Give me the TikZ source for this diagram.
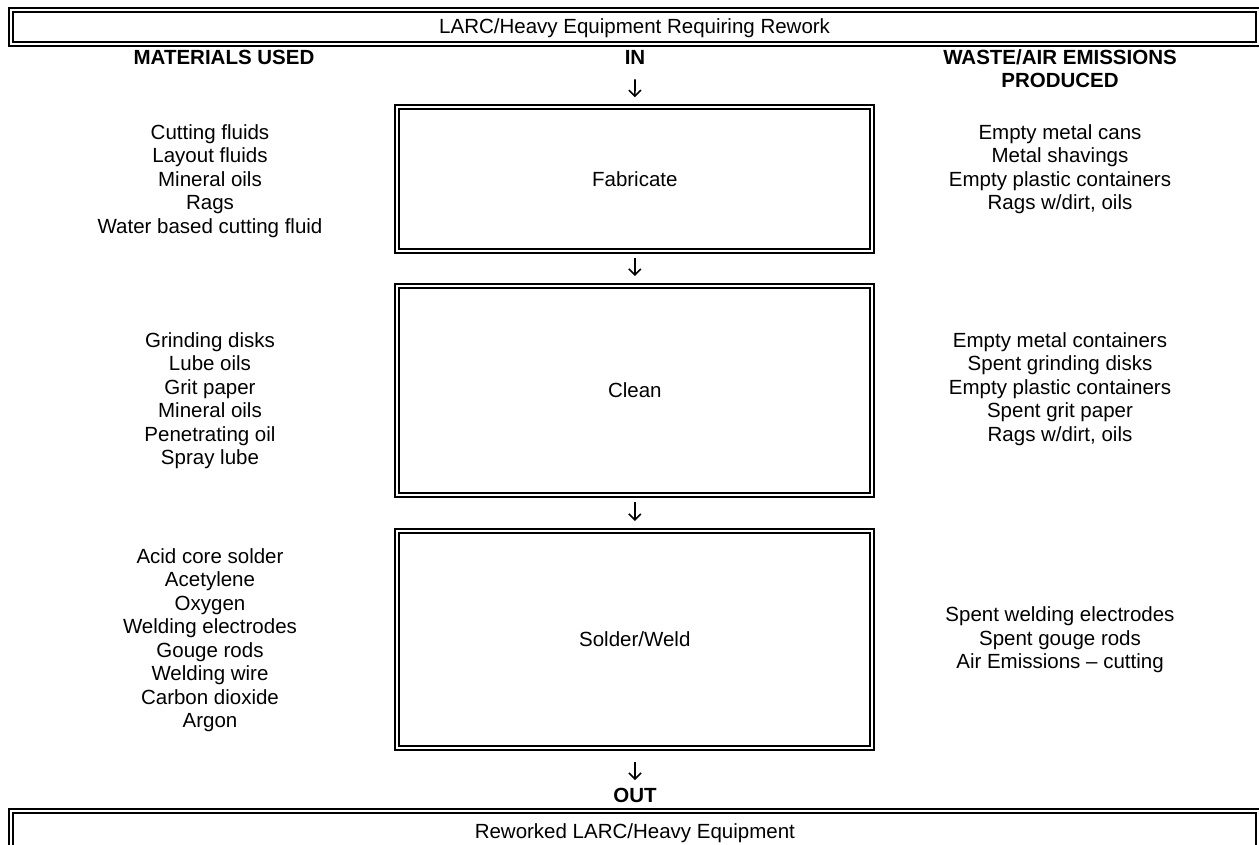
\documentclass[tikz,border=0pt]{standalone}
\usepackage{fontspec}
\setmainfont{Liberation Sans}
\usetikzlibrary{arrows.meta}
\begin{document}
\begin{tikzpicture}[x=1pt,y=-1pt,
  every node/.style={font=\fontsize{20.5}{23.5}\selectfont, align=center, inner sep=0pt},
  dbl/.style={draw, line width=2pt, double, double distance=2.2pt},
  stage/.style={dbl, rectangle, minimum width=475pt},
  head/.style={font=\fontsize{20.5}{23.5}\selectfont\bfseries},
  flow/.style={line width=1.6pt, -{Straight Barb[length=6pt,width=12pt]}}
]
\useasboundingbox (0,0) rectangle (1259,844);

% banners
\node[dbl, minimum width=1247.7pt, minimum height=33.75pt] (top) at (634.65,26.9) {};
\node[anchor=base] (toptext) at (634.65,33) {LARC/Heavy Equipment Requiring Rework};
\node[dbl, minimum width=1247.3pt, minimum height=37pt] (bottom) at (634.85,829.5) {};
\node[anchor=base] (bottomtext) at (634.85,838.5) {Reworked LARC/Heavy Equipment};

% column heads
\node[head] (mat) at (224,57) {MATERIALS USED};
\node[head] (in) at (635,57) {IN};
\node[head] (waste) at (1060,68.5) {WASTE/AIR EMISSIONS\\PRODUCED};

% process stages
\node[stage, minimum height=143.5pt] (fab) at (634.8,179) {Fabricate};
\node[stage, minimum height=209pt] (clean) at (634.8,390.5) {Clean};
\node[stage, minimum height=217pt] (weld) at (634.8,639.5) {Solder/Weld};

\node[head] (out) at (635,795) {OUT};

% flow arrows
\draw[flow, shorten <=15pt, shorten >=9pt] (in) -- (fab);
\draw[flow, shorten <=6pt, shorten >=9pt] (fab) -- (clean);
\draw[flow, shorten <=6pt, shorten >=9pt] (clean) -- (weld);
\draw[flow, shorten <=13pt, shorten >=7.5pt] (weld) -- (out);

% materials used
\node[anchor=north] (m1) at (210,124) {Cutting fluids\\Layout fluids\\Mineral oils\\Rags\\Water based cutting fluid};
\node[anchor=north] (m2) at (210,332) {Grinding disks\\Lube oils\\Grit paper\\Mineral oils\\Penetrating oil\\Spray lube};
\node[anchor=north] (m3) at (210,548) {Acid core solder\\Acetylene\\Oxygen\\Welding electrodes\\Gouge rods\\Welding wire\\Carbon dioxide\\Argon};

% waste and emissions
\node[anchor=north] (w1) at (1060,124) {Empty metal cans\\Metal shavings\\Empty plastic containers\\Rags w/dirt, oils};
\node[anchor=north] (w2) at (1060,332) {Empty metal containers\\Spent grinding disks\\Empty plastic containers\\Spent grit paper\\Rags w/dirt, oils};
\node (w3) at (1060,640) {Spent welding electrodes\\Spent gouge rods\\Air Emissions -- cutting};
\end{tikzpicture}
\end{document}
